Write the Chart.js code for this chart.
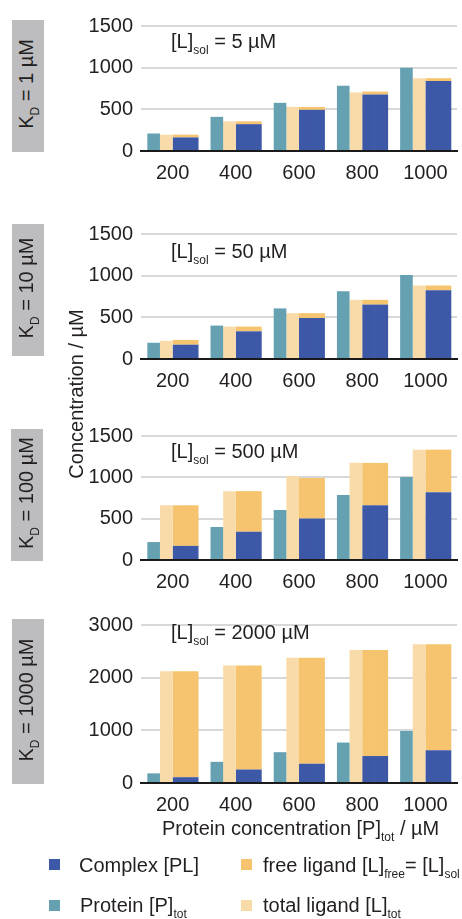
<!DOCTYPE html>
<html>
<head>
<meta charset="utf-8">
<script src="https://cdn.jsdelivr.net/npm/chart.js@4.4.1/dist/chart.umd.min.js"></script>
<style>
  html, body { margin:0; padding:0; background:#fff; }
  body { width:462px; height:919px; position:relative; overflow:hidden;
         font-family:"Liberation Sans", Arial, Helvetica, sans-serif; color:#231F20; }
  .abs { position:absolute; }
  canvas { position:absolute; left:0; }
  .side { position:absolute; background:#BDBDC0; }
  .rot { position:absolute; width:200px; height:20px; line-height:20px; font-size:20px;
         text-align:center; white-space:nowrap; transform:rotate(-90deg); }
  .txt { position:absolute; font-size:20px; line-height:20px; white-space:nowrap; }
  .sub { font-size:12px; position:relative; top:6px; }
  .sq { position:absolute; width:11px; height:11px; }
</style>
</head>
<body>
<script>
// ---------- data ----------
const categories = ['200', '400', '600', '800', '1000'];
const kdValues = ['1', '10', '100', '1000'];
const lsolValues = ['5', '50', '500', '2000'];

// Panel 1: K_D = 1 µM
const protein1     = [210, 410, 578, 782, 1000];
const totalLigand1 = [196, 356, 529, 703, 874];
const complex1     = [163, 322, 494, 678, 839];
const freeLigand1  = [33, 34, 35, 35, 35];

// Panel 2: K_D = 10 µM
const protein2     = [195, 401, 607, 813, 1008];
const totalLigand2 = [218, 389, 550, 710, 882];
const complex2     = [172, 332, 492, 653, 824];
const freeLigand2  = [57, 57, 58, 57, 58];

// Panel 3: K_D = 100 µM
const protein3     = [217, 399, 605, 787, 1004];
const totalLigand3 = [662, 833, 1015, 1175, 1335];
const complex3     = [171, 342, 502, 662, 821];
const freeLigand3  = [491, 491, 490, 513, 514];

// Panel 4: K_D = 1000 µM
const protein4     = [183, 402, 585, 768, 988];
const totalLigand4 = [2122, 2232, 2378, 2524, 2634];
const complex4     = [110, 256, 366, 512, 622];
const freeLigand4  = [2012, 1976, 2012, 2012, 2012];

const yMax = [1500, 1500, 1500, 3000];
const yLabelStep = [500, 500, 500, 1000];

// ---------- style / layout ----------
const TEAL = '#66A1B2', BEIGE = '#F8DBA8', ORANGE = '#F6C46E', BLUE = '#3D58A6';
const panels = [
  { p: protein1, l: totalLigand1, c: complex1, f: freeLigand1, top: 6,   h: 187, areaTop: 20,  areaBot: 151, box: [12, 20, 32, 132] },
  { p: protein2, l: totalLigand2, c: complex2, f: freeLigand2, top: 214, h: 187, areaTop: 228, areaBot: 359, box: [12, 224, 32, 132] },
  { p: protein3, l: totalLigand3, c: complex3, f: freeLigand3, top: 416, h: 186, areaTop: 430, areaBot: 560, box: [11, 429, 32, 132] },
  { p: protein4, l: totalLigand4, c: complex4, f: freeLigand4, top: 605, h: 220, areaTop: 619, areaBot: 783, box: [12, 619, 32, 165] },
];
const annTop = [31, 241, 441, 622];

const FONT = { family: '"Liberation Sans", Arial, sans-serif', size: 20 };

panels.forEach((pn, i) => {
  // grey side label
  const box = document.createElement('div');
  box.className = 'side';
  box.style.left = pn.box[0] + 'px'; box.style.top = pn.box[1] + 'px';
  box.style.width = pn.box[2] + 'px'; box.style.height = pn.box[3] + 'px';
  document.body.appendChild(box);
  const kd = document.createElement('div');
  kd.className = 'rot';
  const cy = pn.box[1] + pn.box[3] / 2 - 2;
  kd.style.left = (26 - 100) + 'px';
  kd.style.top = (cy - 10) + 'px';
  kd.innerHTML = 'K<span class="sub">D</span> = ' + kdValues[i] + ' \u00B5M';
  document.body.appendChild(kd);

  // canvas
  const cv = document.createElement('canvas');
  cv.width = 462; cv.height = pn.h;
  cv.style.top = pn.top + 'px';
  document.body.appendChild(cv);

  const padTop = pn.areaTop - pn.top;
  const xH = pn.top + pn.h - pn.areaBot - 8;

  new Chart(cv.getContext('2d'), {
    type: 'bar',
    data: {
      labels: categories,
      datasets: [
        { label: 'Protein [P]tot', data: pn.p, backgroundColor: TEAL, stack: 'p' },
        { label: 'total ligand [L]tot', data: pn.l, backgroundColor: BEIGE, stack: 'l' },
        { label: 'Complex [PL]', data: pn.c, backgroundColor: BLUE, stack: 's1' },
        { label: 'free ligand', data: pn.f, backgroundColor: ORANGE, stack: 's1' },
        { label: 'Complex [PL] ', data: pn.c, backgroundColor: BLUE, stack: 's2', barPercentage: 1.1 },
        { label: 'free ligand ', data: pn.f, backgroundColor: ORANGE, stack: 's2', barPercentage: 1.1 },
      ]
    },
    options: {
      responsive: false,
      animation: false,
      devicePixelRatio: 1,
      layout: { padding: { top: padTop, right: 5, left: 0, bottom: 8 } },
      datasets: { bar: { categoryPercentage: 0.8, barPercentage: 1, borderWidth: 0 } },
      plugins: { legend: { display: false }, tooltip: { enabled: false } },
      scales: {
        x: {
          stacked: true,
          z: 1,
          grid: { display: false, drawTicks: false },
          border: { display: true, color: '#1A1A1A', width: 2 },
          ticks: { font: FONT, color: '#231F20', padding: 10, maxRotation: 0 },
          afterFit: (s) => { s.height = xH; }
        },
        y: {
          stacked: true,
          min: 0, max: yMax[i],
          grid: { color: '#D8D8D8', lineWidth: 2, drawTicks: false },
          border: { display: false },
          ticks: {
            stepSize: 500, font: FONT, color: '#231F20', padding: 8,
            callback: (v) => (v % yLabelStep[i] === 0 ? v : '')
          },
          afterFit: (s) => { s.width = 141; }
        }
      }
    }
  });

  // annotation
  const ann = document.createElement('div');
  ann.className = 'txt';
  ann.style.left = '171px'; ann.style.top = annTop[i] + 'px';
  ann.innerHTML = '[L]<span class="sub">sol</span> = ' + lsolValues[i] + ' \u00B5M';
  document.body.appendChild(ann);
});
</script>

<!-- y axis title -->
<div class="rot" style="left:-24px; top:384px;">Concentration / µM</div>

<!-- x axis title -->
<div class="txt" style="left:162px; top:818px;">Protein concentration [P]<span class="sub">tot</span> / µM</div>

<!-- legend -->
<div class="sq" style="left:49px; top:859px; background:#3D58A6;"></div>
<div class="txt" style="left:79px; top:855px;">Complex [PL]</div>
<div class="sq" style="left:241px; top:859px; background:#F6C46E;"></div>
<div class="txt" style="left:263px; top:855px;">free ligand [L]<span class="sub">free</span>= [L]<span class="sub">sol</span></div>
<div class="sq" style="left:49px; top:900px; background:#66A1B2;"></div>
<div class="txt" style="left:80px; top:895px;">Protein [P]<span class="sub">tot</span></div>
<div class="sq" style="left:241px; top:900px; background:#F8DBA8;"></div>
<div class="txt" style="left:263px; top:895px;">total ligand [L]<span class="sub">tot</span></div>
</body>
</html>
